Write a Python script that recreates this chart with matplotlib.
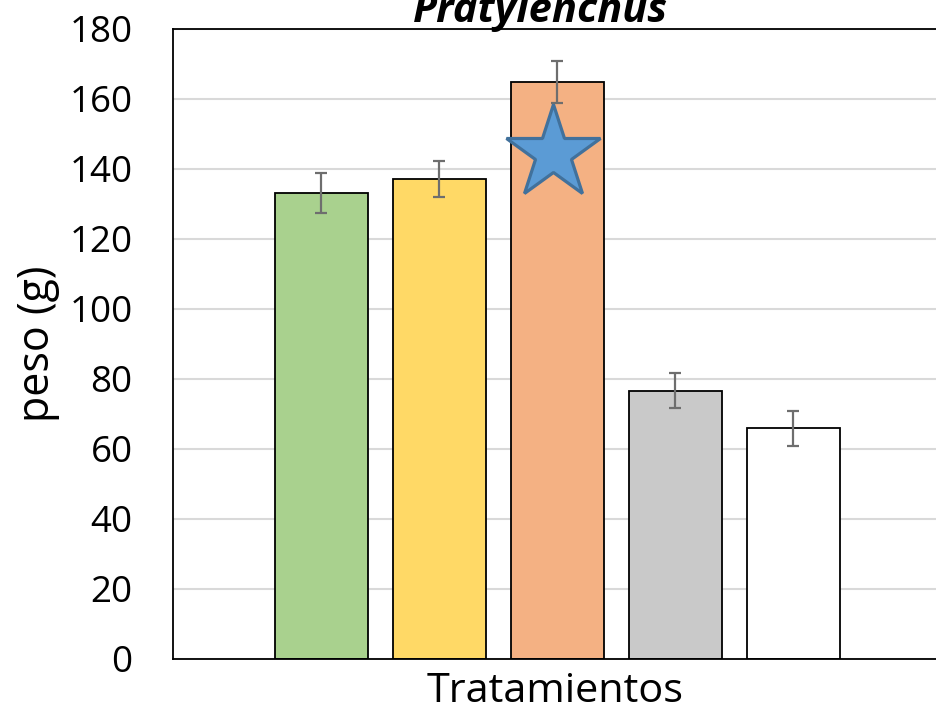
import matplotlib.pyplot as plt
import numpy as np

# peso medio por tratamiento y su error
tratamientos = ['T1', 'T2', 'T3', 'T4', 'T5']
peso = [133.1, 137.1, 164.8, 76.7, 66.0]
error = [5.7, 5.1, 6.0, 5.1, 5.0]
colores = ['#A9D18E', '#FFD966', '#F4B183', '#C9C9C9', '#FFFFFF']
yticks = list(range(0, 181, 20))

# estrella sobre el tratamiento destacado
estrella_x = 1.96
estrella_y = 144.7

plt.rcParams['font.family'] = ['Open Sans', 'DejaVu Sans']

fig = plt.figure(figsize=(9.37, 7.14), dpi=100)
ax = fig.add_axes([173 / 937, 55 / 714, 1 - 173 / 937, 630 / 714])

x = np.arange(len(tratamientos))
ax.bar(x, peso, width=0.79, color=colores, edgecolor='black', linewidth=1.3, zorder=2)
ax.errorbar(x, peso, yerr=error, fmt='none', ecolor='#6E6E6E', elinewidth=1.6,
            capsize=4.5, capthick=1.6, zorder=3)
ax.plot(estrella_x, estrella_y, marker='*', markersize=71, color='#5B9BD5',
        markeredgecolor='#41719C', markeredgewidth=2.3, zorder=4)

ax.set_ylim(0, 180)
ax.set_xlim(-1.258, 5.216)
ax.set_yticks(yticks)
ax.set_xticks([])
ax.yaxis.grid(True, color='#D9D9D9', linewidth=1.5, zorder=0)
ax.set_axisbelow(True)
ax.tick_params(axis='y', length=0, labelsize=26.5, pad=29)
for s in ['left', 'top', 'bottom']:
    ax.spines[s].set_linewidth(1.3)
ax.spines['right'].set_visible(False)

ax.set_ylabel('peso (g)', fontsize=31)
ax.yaxis.set_label_coords(-0.148, 0.5)
ax.set_xlabel('Tratamientos', fontsize=29.8)
ax.xaxis.set_label_coords(0.5, -0.02)
fig.text(540 / 937, 1 - 22 / 714, 'Pratylenchus', fontsize=30, fontweight='bold',
         fontstyle='italic', ha='center', va='baseline')

fig.savefig('out.png', dpi=100)
